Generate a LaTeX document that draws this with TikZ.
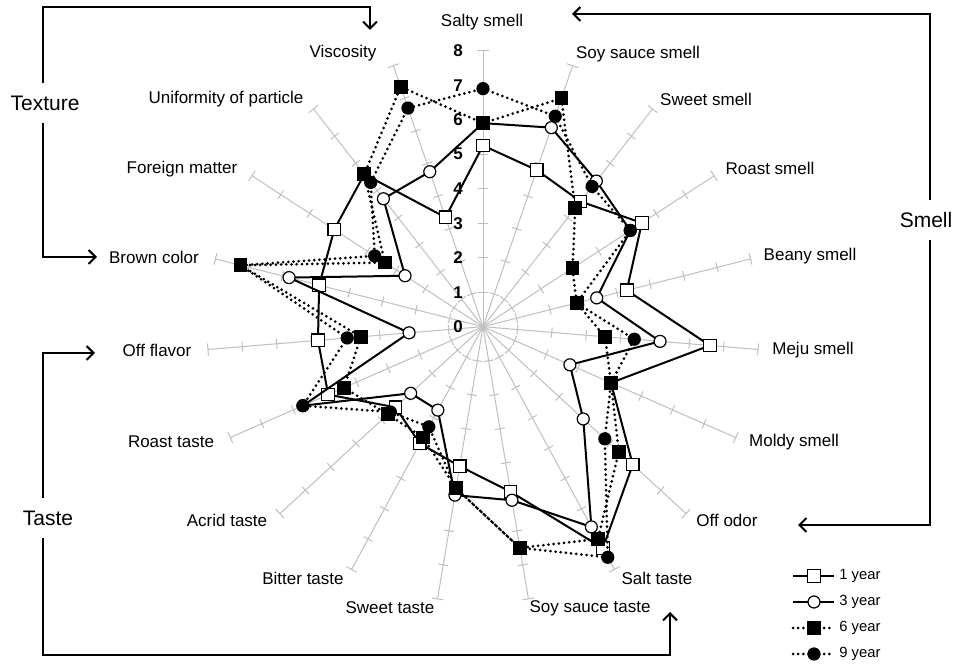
\documentclass[tikz,border=0pt]{standalone}
\usepackage{fontspec}
\setmainfont{Liberation Sans}
\usetikzlibrary{arrows.meta}

\begin{document}
\begin{tikzpicture}[x=0.5pt,y=0.5pt,
	axis/.style={draw=gray!50, line width=0.5pt},
	lab/.style={font=\fontsize{8.5}{10}\selectfont, inner sep=0pt},
	num/.style={font=\fontsize{8.5}{10}\selectfont\bfseries, inner sep=0pt},
	grp/.style={font=\fontsize{10.5}{12}\selectfont, inner xsep=0pt, inner ysep=6pt},
	leg/.style={font=\fontsize{7.4}{9}\selectfont, anchor=west, inner sep=0pt},
	brk/.style={line width=1pt, -{Straight Barb[length=3.5pt,width=7pt]}},
	fullline/.style={line width=1pt},
	dotline/.style={line width=1.5pt, line cap=round, dash pattern=on 0pt off 2.6pt},
	sqw/.style={draw, line width=0.6pt, fill=white, minimum size=6.3pt, inner sep=0pt},
	sqb/.style={sqw, fill=black},
	ciw/.style={circle, draw, line width=0.6pt, fill=white, minimum size=6pt, inner sep=0pt},
	cib/.style={ciw, fill=black}]

	\useasboundingbox (0,0) rectangle (954,664);

	%Chart
	\begin{scope}[shift={(483,337.3)}]
		%Axes
		\foreach \i in {0,...,18}{
			\draw[axis, rotate=90-\i*360/19] (0,0) -- (276,0) (276,-6) -- (276,6);
			\foreach \k in {1,...,7}
				\draw[axis, rotate=90-\i*360/19] (34.5*\k,-5) -- (34.5*\k,5);
		}
		\foreach \k in {0,...,8}
			\node[num] (n\k) at (-25,34.5*\k) {\k};

		%1 year
		\foreach \v [count=\i from 0] in {5.25,4.8,4.6,5.5,4.3,6.6,4.05,5.9,7.3,4.85,4.1,3.85,3.45,4.9,4.8,4.9,5.15,5.6,3.35}
			\coordinate (a\i) at ({90-\i*360/19}:{\v*34.5});
		\draw[fullline] (a0) \foreach \i in {1,...,18}{ -- (a\i)} -- cycle;
		\foreach \i in {0,...,18}
			\node[sqw] (ma\i) at (a\i) {};

		%3 year
		\foreach \v [count=\i from 0] in {5.9,6.1,5.35,5.1,3.4,5.15,2.75,3.95,6.6,5.1,4.95,2.75,2.85,5.7,2.15,5.8,2.7,4.7,4.75}
			\coordinate (b\i) at ({90-\i*360/19}:{\v*34.5});
		\draw[fullline] (b0) \foreach \i in {1,...,18}{ -- (b\i)} -- cycle;
		\foreach \i in {0,...,18}
			\node[ciw] (mb\i) at (b\i) {};

		%6 year
		\foreach \v [count=\i from 0] in {5.9,7.0,4.35,3.1,2.8,3.55,4.05,5.35,7.0,6.5,4.75,3.65,3.75,4.4,3.55,7.25,3.4,5.6,7.35}
			\coordinate (c\i) at ({90-\i*360/19}:{\v*34.5});
		\draw[dotline] (c0) \foreach \i in {1,...,18}{ -- (c\i)} -- cycle;
		\foreach \i in {0,...,18}
			\node[sqb] (mc\i) at (c\i) {};

		%9 year
		\foreach \v [count=\i from 0] in {6.9,6.45,5.15,5.1,2.8,4.4,4.05,4.8,7.6,6.5,4.75,3.3,3.65,5.7,3.95,7.25,3.75,5.3,6.7}
			\coordinate (d\i) at ({90-\i*360/19}:{\v*34.5});
		\draw[dotline] (d0) \foreach \i in {1,...,18}{ -- (d\i)} -- cycle;
		\foreach \i in {0,...,18}
			\node[cib] (md\i) at (d\i) {};
	\end{scope}

	%Attributes
	\foreach \txt/\px/\py [count=\i from 0] in {Salty smell/482/22, Soy sauce smell/638/54,
		Sweet smell/706/99, Roast smell/770/168, Beany smell/810/256, Meju smell/813/350,
		Moldy smell/794/442, Off odor/727/520, Salt taste/657/578, Soy sauce taste/590/608,
		Sweet taste/390/608, Bitter taste/303/578, Acrid taste/227/520, Roast taste/171/442,
		Off flavor/157/350, Brown color/154/257, Foreign matter/182/169,
		Uniformity of particle/226/99, Viscosity/343/53}
		\node[lab] (l\i) at (\px,664-\py) {\txt};

	%Groups
	\coordinate (lft) at (43,0);
	\coordinate (rgt) at (930,0);
	\node[grp] (tex) at (45,561) {Texture};
	\node[grp] (tas) at (48,146) {Taste};
	\node[grp] (sme) at (926,444) {Smell};
	\draw[brk] (tex.north -| lft) |- (370,657) -- (370,634);
	\draw[brk] (tex.south -| lft) |- (97,407);
	\draw[brk] (tas.north -| lft) |- (95,311);
	\draw[brk] (tas.south -| lft) |- (670,9) -- (670,52);
	\draw[brk] (sme.north -| rgt) |- (572,650);
	\draw[brk] (sme.south -| rgt) |- (798,139);

	%Legend
	\foreach \t/\py/\ls/\mk [count=\j] in {1 year/576/fullline/sqw, 3 year/602/fullline/ciw,
		6 year/628/dotline/sqb, 9 year/654/dotline/cib}{
		\draw[\ls] (793,664-\py) -- (834,664-\py);
		\node[\mk] (k\j) at (814,664-\py) {};
		\node[leg] (t\j) at (839,664-\py) {\t};
	}

\end{tikzpicture}
\end{document}
